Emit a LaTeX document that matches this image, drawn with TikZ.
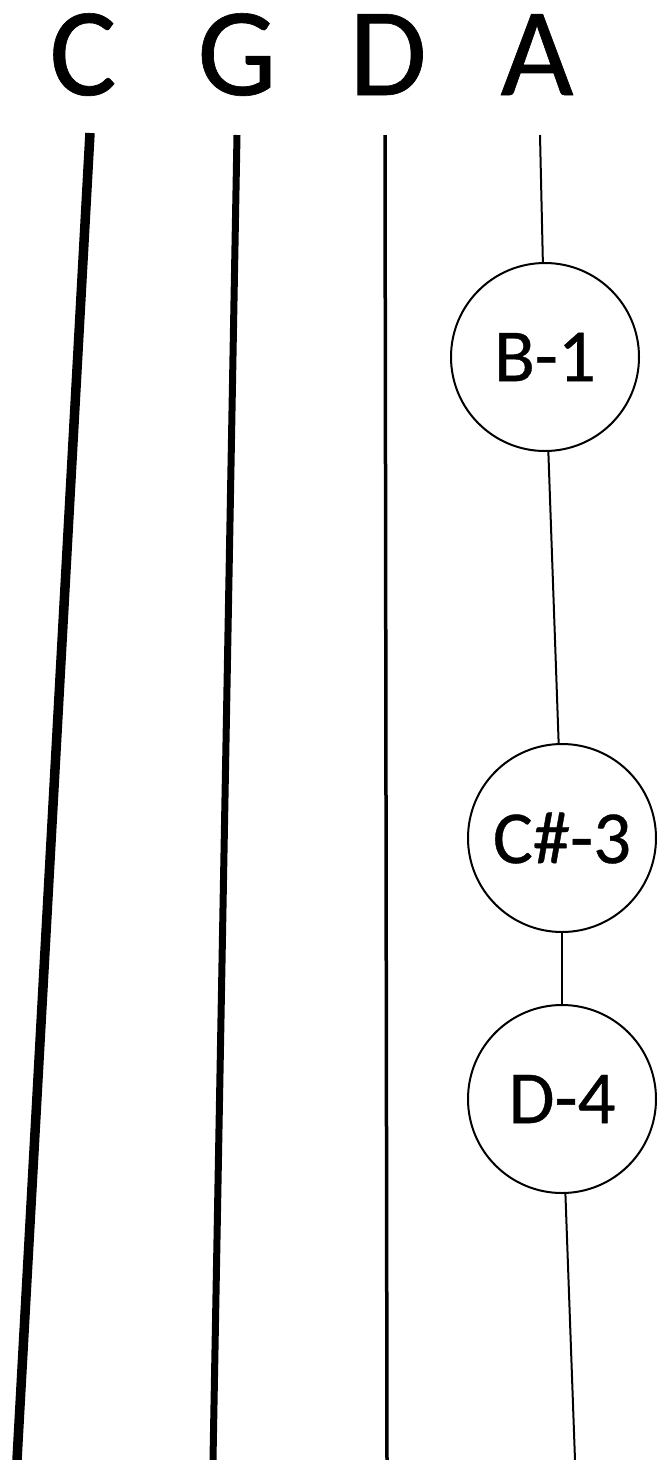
\documentclass[tikz,border=0pt]{standalone}
\usepackage{fontspec}
\setmainfont{Carlito}[FakeBold=0.5]
\begin{document}
\begin{tikzpicture}[x=1pt,y=-1pt,
  stringlabel/.style={inner sep=0pt,anchor=base,font=\fontsize{126}{126}\selectfont},
  notecircle/.style={circle,draw,line width=2pt,minimum size=188pt,inner sep=0pt,font=\fontsize{75}{75}\selectfont},
  link/.style={line width=2pt}]
\useasboundingbox (0,0) rectangle (657,1460);
% labels
\node[stringlabel] (lc) at (83,95) {C};
\node[stringlabel] (lg) at (237,95) {G};
\node[stringlabel] (ld) at (388,95) {D};
\node[stringlabel] (la) at (537,95) {A};
% string end points
\coordinate (ct) at (90,133);
\coordinate (cb) at (17,1460);
\coordinate (gt) at (237,135);
\coordinate (gb) at (213,1460);
\coordinate (dt) at (385,135);
\coordinate (db) at (387,1460);
\coordinate (at) at (540,135);
\coordinate (ab) at (575,1460);
% strings
\draw[line width=9.5pt] (ct) -- (cb);
\draw[line width=7pt] (gt) -- (gb);
\draw[line width=3.5pt] (dt) -- (db);
% notes on A string
\node[notecircle] (b1) at (545,357) {B-1};
\node[notecircle] (cs3) at (562,838) {C\#-3};
\node[notecircle] (d4) at (562,1099) {D-4};
\draw[link] (at) -- (b1);
\draw[link] (b1) -- (cs3);
\draw[link] (cs3) -- (d4);
\draw[link] (d4) -- (ab);
\end{tikzpicture}
\end{document}
